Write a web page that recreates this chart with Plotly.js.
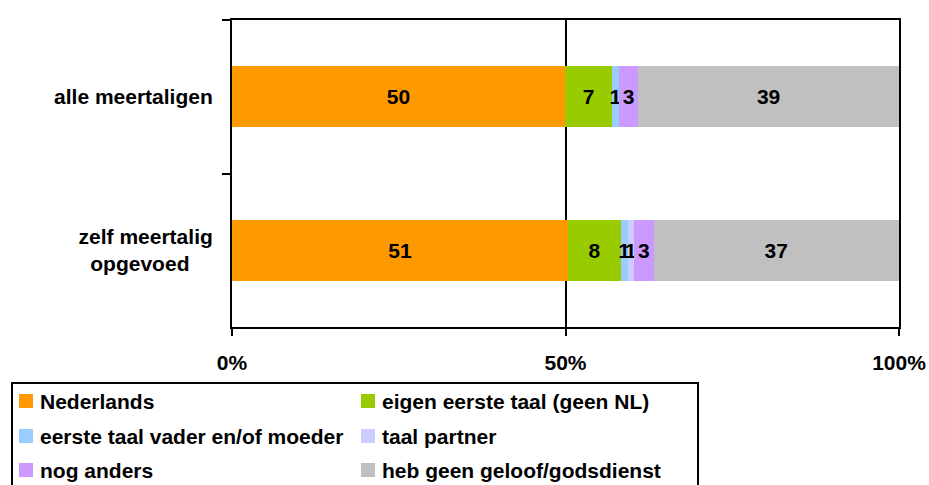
<!DOCTYPE html>
<html>
<head>
<meta charset="utf-8">
<script src="https://cdn.plot.ly/plotly-3.0.1.min.js"></script>
<style>html,body{margin:0;padding:0;background:#fff;}#chart{width:929px;height:485px;}</style>
</head>
<body>
<div id="chart"></div>
<script>
var categories = ["alle meertaligen", "zelf meertalig<br>opgevoed\u00a0\u00a0\u00a0\u00a0"];
var seriesNames = ["Nederlands", "eigen eerste taal (geen NL)", "eerste taal vader en/of moeder", "taal partner", "nog anders", "heb geen geloof/godsdienst"];
var nederlands = [49.9, 50.4];
var eigenEersteTaal = [7.1, 7.9];
var taalOuders = [1.0, 1.0];
var taalPartner = [0.0, 1.0];
var nogAnders = [2.9, 2.9];
var geenGeloof = [39.1, 36.8];
var labelsNederlands = ["50", "51"];
var labelsEigen = ["7", "8"];
var labelsOuders = ["1", "1"];
var labelsPartner = ["", "1"];
var labelsAnders = ["3", "3"];
var labelsGeen = ["39", "37"];
var xTickVals = [0, 50, 100];
var xTickText = ["0%", "50%", "100%"];

var colors = ["#FF9900", "#99CC00", "#99CCFF", "#CCCCFF", "#CC99FF", "#C0C0C0"];
var values = [nederlands, eigenEersteTaal, taalOuders, taalPartner, nogAnders, geenGeloof];
var labels = [labelsNederlands, labelsEigen, labelsOuders, labelsPartner, labelsAnders, labelsGeen];
var FONT = "Liberation Sans, Arial, sans-serif";
var FS = 21;

var W = 929, H = 485, ML = 232, MR = 30, MT = 20, MB = 158;
var PW = W - ML - MR, PH = H - MT - MB;
function px2x(px) { return (px - ML) / PW; }
function py2y(py) { return (H - MB - py) / PH; }

var traces = values.map(function (v, i) {
  return {
    type: "bar",
    orientation: "h",
    name: seriesNames[i],
    x: v,
    y: categories,
    text: labels[i],
    textposition: "inside",
    insidetextanchor: "middle",
    constraintext: "none",
    textangle: 0,
    textfont: {family: FONT, size: FS, color: "#000", weight: "bold"},
    marker: {color: colors[i], line: {width: 0}},
    hoverinfo: "x+name",
    showlegend: false
  };
});

// Legend drawn as a boxed 2-column key (positions in pixels)
var shapes = [{
  type: "rect", xref: "paper", yref: "paper",
  x0: px2x(12), x1: px2x(698), y0: py2y(383), y1: py2y(500),
  line: {color: "#000", width: 2}, fillcolor: "rgba(0,0,0,0)"
}];
var annotations = [];
var colX = [19, 361], rowY = [401, 436, 470];
seriesNames.forEach(function (name, i) {
  var cx = colX[i % 2], cy = rowY[Math.floor(i / 2)];
  shapes.push({
    type: "rect", xref: "paper", yref: "paper",
    x0: px2x(cx), x1: px2x(cx + 14), y0: py2y(cy - 7), y1: py2y(cy + 7),
    line: {width: 0}, fillcolor: colors[i]
  });
  annotations.push({
    xref: "paper", yref: "paper", x: px2x(cx + 19), y: py2y(cy),
    xanchor: "left", yanchor: "middle", showarrow: false,
    text: name,
    font: {family: FONT, size: FS, color: "#000", weight: "bold"}
  });
});

var layout = {
  width: W, height: H,
  margin: {l: ML, r: MR, t: MT, b: MB},
  barmode: "stack",
  bargap: 0.6,
  paper_bgcolor: "#fff", plot_bgcolor: "#fff",
  font: {family: FONT, size: FS, color: "#000", weight: "bold"},
  showlegend: false,
  xaxis: {
    range: [0, 100], tickmode: "array", tickvals: xTickVals, ticktext: xTickText,
    showline: true, linecolor: "#000", linewidth: 2, mirror: true,
    ticks: "outside", ticklen: 7, tickwidth: 2, tickcolor: "#000",
    showgrid: true, gridcolor: "#000", gridwidth: 2, zeroline: false,
    tickfont: {family: FONT, size: FS, color: "#000", weight: "bold"},
    ticklabelstandoff: 9, fixedrange: true, automargin: false
  },
  yaxis: {
    type: "category", autorange: "reversed",
    showline: true, linecolor: "#000", linewidth: 2, mirror: true,
    ticks: "outside", ticklen: 8, tickwidth: 2, tickcolor: "#000", tickson: "boundaries",
    showgrid: false, zeroline: false,
    tickfont: {family: FONT, size: FS, color: "#000", weight: "bold"},
    ticklabelstandoff: 13, fixedrange: true, automargin: false
  },
  shapes: shapes,
  annotations: annotations
};

Plotly.newPlot("chart", traces, layout, {displayModeBar: false, staticPlot: true});
</script>
</body>
</html>
